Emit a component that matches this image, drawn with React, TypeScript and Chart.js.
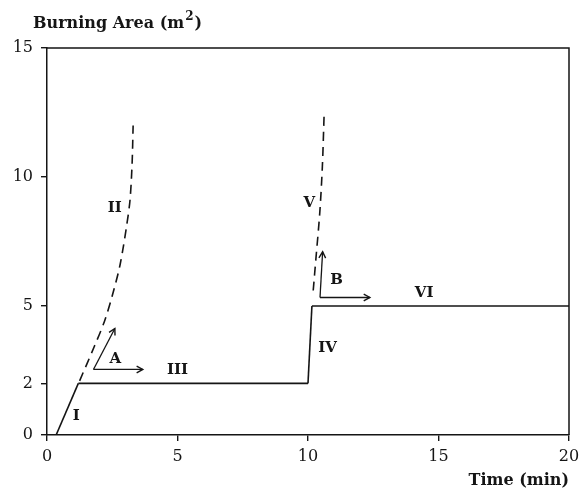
import React, { useEffect, useRef } from 'react';
import { Chart, registerables } from 'chart.js';

Chart.register(...registerables);

// ---- data ----
const xTickValues = [0, 5, 10, 15, 20];
const yTickValues = [0, 2, 5, 10, 15];

const phaseI = [{ x: 0.35, y: 0 }, { x: 1.2, y: 2 }];
const phaseIII = [{ x: 1.2, y: 2 }, { x: 10, y: 2 }];
const phaseIV = [{ x: 10, y: 2 }, { x: 10.15, y: 5 }];
const phaseVI = [{ x: 10.15, y: 5 }, { x: 20, y: 5 }];
const phaseII = [
  { x: 1.25, y: 2.1 }, { x: 1.8, y: 3.4 }, { x: 2.2, y: 4.4 }, { x: 2.5, y: 5.4 },
  { x: 2.8, y: 6.6 }, { x: 3.05, y: 8.1 }, { x: 3.18, y: 9.1 }, { x: 3.26, y: 10.5 }, { x: 3.3, y: 12 },
];
const phaseV = [
  { x: 10.2, y: 5.6 }, { x: 10.3, y: 6.8 }, { x: 10.45, y: 8.6 }, { x: 10.55, y: 10.4 }, { x: 10.62, y: 12.5 },
];
const arrowAUp = [{ x: 1.78, y: 2.54 }, { x: 2.6, y: 4.13 }];
const arrowARight = [{ x: 1.78, y: 2.54 }, { x: 3.67, y: 2.54 }];
const arrowBUp = [{ x: 10.46, y: 5.33 }, { x: 10.56, y: 7.1 }];
const arrowBRight = [{ x: 10.46, y: 5.33 }, { x: 12.37, y: 5.33 }];

const labelTexts = ['I', 'II', 'III', 'IV', 'V', 'VI', 'A', 'B'];
const labelX = [1.12, 2.6, 5.0, 10.75, 10.05, 14.45, 2.62, 11.1];
const labelY = [0.75, 8.8, 2.5, 3.35, 9.0, 5.5, 2.95, 6.0];

const INK = '#151515';
const SERIF = '"DejaVu Serif", "Liberation Serif", serif';

const arrowSets = [arrowAUp, arrowARight, arrowBUp, arrowBRight];

const overlayPlugin = {
  id: 'overlay',
  beforeDatasetsDraw(chart: any) {
    const { ctx, chartArea } = chart;
    ctx.save();
    ctx.strokeStyle = INK;
    ctx.lineWidth = 1.5;
    ctx.beginPath();
    ctx.moveTo(chartArea.left, chartArea.top);
    ctx.lineTo(chartArea.right, chartArea.top);
    ctx.lineTo(chartArea.right, chartArea.bottom);
    ctx.stroke();
    ctx.restore();
  },
  afterDatasetsDraw(chart: any) {
    const { ctx } = chart;
    const xs = chart.scales.x;
    const ys = chart.scales.y;
    ctx.save();
    ctx.strokeStyle = INK;
    ctx.lineWidth = 1.4;
    arrowSets.forEach((pts) => {
      const a = pts[pts.length - 2];
      const b = pts[pts.length - 1];
      const x1 = xs.getPixelForValue(a.x), y1 = ys.getPixelForValue(a.y);
      const x2 = xs.getPixelForValue(b.x), y2 = ys.getPixelForValue(b.y);
      const ang = Math.atan2(y2 - y1, x2 - x1);
      const len = 7;
      ctx.beginPath();
      ctx.moveTo(x2 - len * Math.cos(ang - 0.5), y2 - len * Math.sin(ang - 0.5));
      ctx.lineTo(x2, y2);
      ctx.lineTo(x2 - len * Math.cos(ang + 0.5), y2 - len * Math.sin(ang + 0.5));
      ctx.stroke();
    });
    ctx.fillStyle = INK;
    ctx.font = `bold 15px ${SERIF}`;
    ctx.textAlign = 'center';
    ctx.textBaseline = 'middle';
    labelTexts.forEach((t, i) => {
      ctx.fillText(t, xs.getPixelForValue(labelX[i]), ys.getPixelForValue(labelY[i]));
    });
    // axis titles
    ctx.textAlign = 'left';
    ctx.textBaseline = 'alphabetic';
    ctx.font = `bold 16px ${SERIF}`;
    const t1 = 'Burning Area (m';
    ctx.fillText(t1, 33, 28);
    const w = ctx.measureText(t1).width;
    ctx.font = `bold 12px ${SERIF}`;
    ctx.fillText('2', 33 + w + 1, 20);
    const w2 = ctx.measureText('2').width;
    ctx.font = `bold 16px ${SERIF}`;
    ctx.fillText(')', 33 + w + w2 + 2, 28);
    ctx.textAlign = 'right';
    ctx.fillText('Time (min)', 569, 485);
    ctx.restore();
  },
};

const solid = (data: any[]) => ({
  data, borderColor: INK, borderWidth: 1.6, pointRadius: 0, fill: false, tension: 0,
});
const dashed = (data: any[]) => ({
  data, borderColor: INK, borderWidth: 1.6, pointRadius: 0, fill: false, tension: 0.3,
  borderDash: [9, 6],
});
const thin = (data: any[]) => ({
  data, borderColor: INK, borderWidth: 1.3, pointRadius: 0, fill: false, tension: 0,
});

export default function App() {
  const ref = useRef<HTMLCanvasElement>(null);
  useEffect(() => {
    if (!ref.current) return;
    const chart = new Chart(ref.current, {
      type: 'line',
      data: {
        datasets: [
          solid(phaseI), solid(phaseIII), solid(phaseIV), solid(phaseVI),
          dashed(phaseII), dashed(phaseV),
          thin(arrowAUp), thin(arrowARight), thin(arrowBUp), thin(arrowBRight),
        ] as any,
      },
      options: {
        responsive: false,
        animation: false,
        layout: { padding: { top: 48, right: 14, left: 0, bottom: 0 } },
        plugins: { legend: { display: false }, tooltip: { enabled: false } },
        scales: {
          x: {
            type: 'linear', min: 0, max: 20,
            afterBuildTicks: (s: any) => { s.ticks = xTickValues.map((v) => ({ value: v })); },
            afterFit: (s: any) => { s.height = 55; s.paddingLeft = 0; s.paddingRight = 0; },
            grid: { drawOnChartArea: false, drawTicks: true, tickLength: 6, color: INK, lineWidth: 1.4 },
            border: { display: true, color: INK, width: 1.5 },
            ticks: { color: INK, font: { family: SERIF, size: 16 }, padding: 6, maxRotation: 0 },
          },
          y: {
            type: 'linear', min: 0, max: 15,
            afterBuildTicks: (s: any) => { s.ticks = yTickValues.map((v) => ({ value: v })); },
            afterFit: (s: any) => { s.width = 47; s.paddingTop = 0; s.paddingBottom = 0; },
            grid: { drawOnChartArea: false, drawTicks: true, tickLength: 6, color: INK, lineWidth: 1.4 },
            border: { display: true, color: INK, width: 1.5 },
            ticks: { color: INK, font: { family: SERIF, size: 16 }, padding: 8 },
          },
        },
      } as any,
      plugins: [overlayPlugin],
    });
    return () => chart.destroy();
  }, []);
  return (
    <div style={{ position: 'absolute', left: 0, top: 0, width: 583, height: 490, background: '#fff' }}>
      <canvas ref={ref} width={583} height={490} />
    </div>
  );
}
